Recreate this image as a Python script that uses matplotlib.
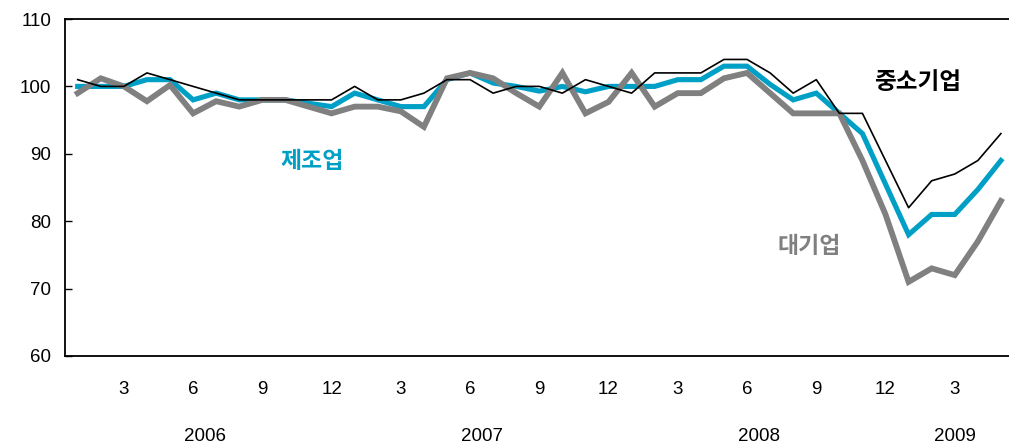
import matplotlib
matplotlib.use("Agg")
import matplotlib.pyplot as plt
import matplotlib.transforms as mtransforms

plt.rcParams['font.family'] = ['Liberation Sans', 'Noto Sans CJK KR']

# monthly index, Jan 2006 .. May 2009
months = list(range(1, 13)) * 3 + [1, 2, 3, 4, 5]
small = [101, 100, 100, 102, 101, 100, 99, 98, 98, 98, 98, 98,
         100, 98, 98, 99, 101, 101, 99, 100, 100, 99, 101, 100,
         99, 102, 102, 102, 104, 104, 102, 99, 101, 96, 96, 89,
         82, 86, 87, 89, 93]
manuf = [100, 100, 100, 101, 101, 98, 99, 98, 98, 98, 97.5, 97,
         99, 98, 97, 97, 101, 102, 100.5, 100, 99.3, 100, 99.2, 100,
         100, 100, 101, 101, 103, 103, 100.3, 98, 99, 96, 93, 85.5,
         78, 81, 81, 84.7, 89]
large = [99, 101.2, 100, 97.8, 100.2, 96, 97.8, 97, 98, 98, 97, 96,
         97, 97, 96.3, 94, 101.2, 102, 101.2, 99, 97, 102, 96, 97.7,
         102, 97, 99, 99, 101.2, 102, 99, 96, 96, 96, 89, 81,
         71, 73, 72, 77, 83]
years = ['2006', '2007', '2008', '2009']
year_pos = [5.5, 17.5, 29.5, 38]

x = list(range(len(months)))

fig = plt.figure(figsize=(10.09, 4.46), dpi=100)
ax = fig.add_axes([65 / 1009, 1 - 356 / 446, 944 / 1009, 337 / 446])

ax.plot(x, manuf, color='#00A0C6', lw=3.7, solid_joinstyle='miter')
ax.plot(x, large, color='#808080', lw=4.2, solid_joinstyle='miter')
ax.plot(x, small, color='black', lw=1.2)

ax.set_xlim(-0.55, 40.35)
ax.set_ylim(60, 110)
ax.set_yticks(range(60, 111, 10))
ax.tick_params(axis='y', direction='in', length=5, width=1, labelsize=13.5, pad=10)

tick_idx = [i for i in x if months[i] % 3 == 0]
ax.set_xticks(tick_idx)
ax.set_xticklabels([str(months[i]) for i in tick_idx])
ax.tick_params(axis='x', length=0, labelsize=13.5, pad=18)

for s in ['left', 'top', 'bottom']:
    ax.spines[s].set_linewidth(1.3)
ax.spines['right'].set_visible(False)

trans = mtransforms.blended_transform_factory(ax.transData, ax.transAxes)
for yr, p in zip(years, year_pos):
    ax.text(p, -0.24, yr, transform=trans, ha='center', va='center', fontsize=13.5)

ax.text(36.4, 100.7, '중소기업', color='black', fontsize=17, fontweight='bold',
        ha='center', va='center', family=['Noto Sans CJK KR'])
ax.text(10.15, 88.9, '제조업', color='#00A0C6', fontsize=16.5, fontweight='bold',
        ha='center', va='center', family=['Noto Sans CJK KR'])
ax.text(31.7, 76.3, '대기업', color='#808080', fontsize=16.5, fontweight='bold',
        ha='center', va='center', family=['Noto Sans CJK KR'])

fig.savefig('out.png', dpi=100)
